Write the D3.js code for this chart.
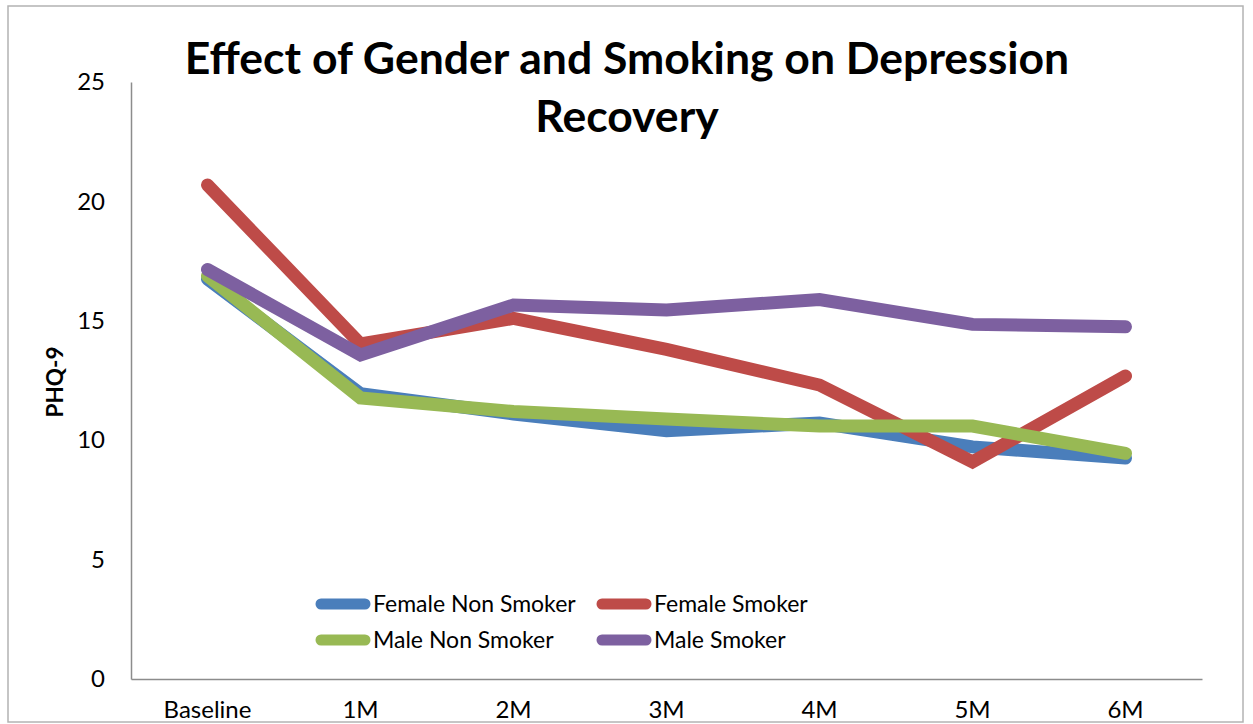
<!DOCTYPE html>
<html>
<head>
<meta charset="utf-8">
<script src="https://cdn.jsdelivr.net/npm/d3@7"></script>
<style>
  html, body { margin: 0; padding: 0; background: #fff; }
  svg { display: block; }
  text { font-family: Lato, "Open Sans", sans-serif; fill: #000; }
</style>
</head>
<body>
<svg id="chart" width="1253" height="724"></svg>
<script>
const categories = ["Baseline", "1M", "2M", "3M", "4M", "5M", "6M"];
const seriesNames = ["Female Non Smoker", "Female Smoker", "Male Non Smoker", "Male Smoker"];
const femaleNonSmoker = [16.75, 11.95, 11.1, 10.4, 10.72, 9.72, 9.25];
const femaleSmoker    = [20.69, 14.03, 15.1, 13.8, 12.31, 9.09, 12.69];
const maleNonSmoker   = [16.88, 11.77, 11.2, 10.89, 10.59, 10.59, 9.45];
const maleSmoker      = [17.15, 13.57, 15.66, 15.45, 15.89, 14.85, 14.75];
const yTicks = [0, 5, 10, 15, 20, 25];
const colors = ["#4A7EBB", "#BE4B48", "#98B954", "#7D60A0"];
const titleLines = ["Effect of Gender and Smoking on Depression", "Recovery"];
const yLabel = "PHQ-9";

const seriesValues = [femaleNonSmoker, femaleSmoker, maleNonSmoker, maleSmoker];

const svg = d3.select("#chart");

// outer frame
svg.append("rect").attr("x", 8).attr("y", 6).attr("width", 1235).attr("height", 716)
  .attr("fill", "#fff").attr("stroke", "#b3b3b3").attr("stroke-width", 1.5);

const plot = { left: 131, right: 1202, top: 82, bottom: 679 };

const x = d3.scaleBand().domain(categories).range([plot.left, plot.right]).padding(0);
const y = d3.scaleLinear().domain([0, 25]).range([plot.bottom, plot.top]);

// y axis
const yAxis = d3.axisLeft(y).tickValues(yTicks).tickSize(0).tickPadding(26).tickFormat(d3.format("d"));
const gy = svg.append("g").attr("transform", `translate(${plot.left},0)`).call(yAxis);
gy.select(".domain").attr("stroke", "#8c8c8c").attr("stroke-width", 1.5);
gy.selectAll("text").attr("font-size", 24).attr("font-family", "Lato, sans-serif").attr("fill", "#000");

// x axis
const xAxis = d3.axisBottom(x).tickSize(0).tickPadding(22);
const gx = svg.append("g").attr("transform", `translate(0,${plot.bottom})`).call(xAxis);
gx.select(".domain").attr("stroke", "#8c8c8c").attr("stroke-width", 1.5);
gx.selectAll("text").attr("font-size", 24).attr("font-family", "Lato, sans-serif").attr("fill", "#000");

// lines
const line = d3.line()
  .x((d, i) => x(categories[i]) + x.bandwidth() / 2)
  .y(d => y(d));

seriesValues.forEach((vals, si) => {
  svg.append("path")
    .datum(vals)
    .attr("d", line)
    .attr("fill", "none")
    .attr("stroke", colors[si])
    .attr("stroke-width", 13)
    .attr("stroke-linejoin", "miter")
    .attr("stroke-linecap", "round");
});

// title
const title = svg.append("text")
  .attr("text-anchor", "middle")
  .attr("font-weight", "bold")
  .attr("font-size", 44.5);
titleLines.forEach((t, i) => {
  title.append("tspan").attr("x", 627).attr("y", 74 + i * 58).text(t);
});

// y label
svg.append("text")
  .attr("transform", "translate(63,382) rotate(-90)")
  .attr("text-anchor", "middle")
  .attr("font-weight", "bold")
  .attr("font-size", 22.5)
  .text(yLabel);

// legend
const legendPos = [
  { lx: 321, ly: 604 },
  { lx: 602, ly: 604 },
  { lx: 321, ly: 640 },
  { lx: 602, ly: 640 }
];
seriesNames.forEach((name, i) => {
  const p = legendPos[i];
  const g = svg.append("g");
  g.append("line").attr("x1", p.lx).attr("x2", p.lx + 44)
    .attr("y1", p.ly).attr("y2", p.ly)
    .attr("stroke", colors[i]).attr("stroke-width", 11).attr("stroke-linecap", "round");
  g.append("text").attr("x", p.lx + 52).attr("y", p.ly).attr("dy", "0.36em")
    .attr("font-size", 23).text(name);
});
</script>
</body>
</html>
